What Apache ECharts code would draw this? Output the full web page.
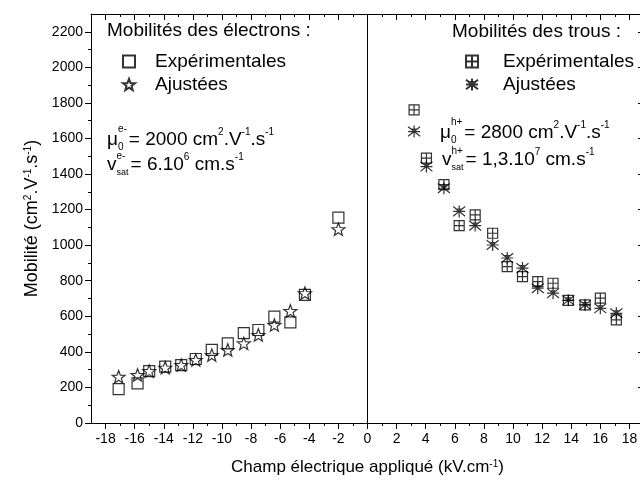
<!DOCTYPE html>
<html><head><meta charset="utf-8">
<script src="https://cdn.jsdelivr.net/npm/echarts@6/dist/echarts.min.js"></script>
<style>html,body{margin:0;padding:0;background:#fff}#c{width:640px;height:490px}</style>
</head><body><div id="c"></div>
<script>
// ---------- data ----------
const xTicks = [-18,-16,-14,-12,-10,-8,-6,-4,-2,0,2,4,6,8,10,12,14,16,18];
const xMinorTicks = [-17,-15,-13,-11,-9,-7,-5,-3,-1,1,3,5,7,9,11,13,15,17];
const yTicks = [0,200,400,600,800,1000,1200,1400,1600,1800,2000,2200];
const yMinorTicks = [100,300,500,700,900,1100,1300,1500,1700,1900,2100];

const eField = [-17.1,-15.8,-15.0,-13.9,-12.8,-11.8,-10.7,-9.6,-8.5,-7.5,-6.4,-5.3,-4.3,-2.0];
const eExp   = [191,223,292,317,326,360,411,448,505,523,598,566,720,1155];
const eFit   = [260,270,292,311,326,354,382,411,448,495,551,630,730,1090];

const hField = [3.2,4.05,5.25,6.3,7.4,8.6,9.6,10.65,11.7,12.75,13.8,14.95,16.0,17.1];
const hExp   = [1761,1489,1340,1110,1170,1067,879,823,795,786,690,664,702,580];
const hFit   = [1639,1442,1320,1190,1110,1001,928,871,758,730,690,664,645,617];

const names = {eExp:'Expérimentales (e-)', eFit:'Ajustées (e-)', hExp:'Expérimentales (h+)', hFit:'Ajustées (h+)'};
const labelText = {'Expérimentales (e-)':'Expérimentales','Ajustées (e-)':'Ajustées','Expérimentales (h+)':'Expérimentales','Ajustées (h+)':'Ajustées'};

// ---------- symbols ----------
function starPath(){
  const p=[];
  for(let i=0;i<10;i++){const r=i%2?0.42:1;const a=-Math.PI/2+i*Math.PI/5;p.push([(r*Math.cos(a)).toFixed(3),(r*Math.sin(a)).toFixed(3)]);}
  return 'path://M'+p.map(q=>q[0]+','+q[1]).join('L')+'Z';
}
const SYM_SQ = 'rect';
const SYM_STAR = starPath();
const SYM_GRID = 'path://M0,0L10,0L10,10L0,10Z M5,0L5,10 M0,5L10,5';
const SYM_AST = 'path://M0,1L10,9 M10,1L0,9 M0,5L10,5 M5,0L5,10 M3,3L7,3';

const FONT = '"Liberation Sans", Arial, sans-serif';
const BLACK = '#000';

// ---------- text helper ----------
const mctx = document.createElement('canvas').getContext('2d');
function tw(t, fs){ mctx.font = fs+'px "Liberation Sans"'; return mctx.measureText(t).width; }
function seq(x, y, parts){
  const els=[]; let cx=x;
  parts.forEach(p=>{
    const items = p.stack ? p.stack : [p];
    let w=0;
    items.forEach(it=>{
      els.push({type:'text', x:cx, y:y+(it.dy||0), z:10, style:{text:it.t, fontSize:it.fs, fontFamily:FONT, fill:BLACK, align:'left', verticalAlign:'middle'}});
      w=Math.max(w,tw(it.t,it.fs));
    });
    cx+=w+(p.gap||0);
  });
  return els;
}
const F=19, S=10;
let graphics = [];
graphics.push({type:'text', x:107, y:31, style:{text:'Mobilités des électrons :', fontSize:F, fontFamily:FONT, fill:BLACK, verticalAlign:'middle'}});
graphics.push({type:'text', x:452, y:32, style:{text:'Mobilités des trous :', fontSize:F, fontFamily:FONT, fill:BLACK, verticalAlign:'middle'}});
graphics = graphics.concat(seq(107,140,[
  {t:'μ',fs:F,gap:0},{stack:[{t:'e-',fs:S,dy:-11},{t:'0',fs:S,dy:7}],gap:2},
  {t:'= 2000 cm',fs:F},{t:'2',fs:S,dy:-8},{t:'.V',fs:F},{t:'-1',fs:S,dy:-8},{t:'.s',fs:F},{t:'-1',fs:S,dy:-8}]));
graphics = graphics.concat(seq(107,165,[
  {t:'v',fs:F,gap:0},{stack:[{t:'e-',fs:S,dy:-9},{t:'sat',fs:S-1,dy:8}],gap:2},
  {t:'= 6.10',fs:F},{t:'6',fs:S,dy:-8},{t:' cm.s',fs:F},{t:'-1',fs:S,dy:-8}]));
graphics = graphics.concat(seq(440,133,[
  {t:'μ',fs:F,gap:0},{stack:[{t:'h+',fs:S,dy:-11},{t:'0',fs:S,dy:7}],gap:2},
  {t:'= 2800 cm',fs:F},{t:'2',fs:S,dy:-8},{t:'.V',fs:F},{t:'-1',fs:S,dy:-8},{t:'.s',fs:F},{t:'-1',fs:S,dy:-8}]));
graphics = graphics.concat(seq(442,160,[
  {t:'v',fs:F,gap:0},{stack:[{t:'h+',fs:S,dy:-9},{t:'sat',fs:S-1,dy:8}],gap:2},
  {t:'= 1,3.10',fs:F},{t:'7',fs:S,dy:-8},{t:' cm.s',fs:F},{t:'-1',fs:S,dy:-8}]));

// ---------- axes ----------
const XMIN=-19, XMAX=19, YMIN=0, YMAX=2300;
function xAx(pos, vals, len, inside, main){
  return {type:'value', min:XMIN, max:XMAX, position:pos,
    axisLine:{show:!!main, onZero:false, lineStyle:{color:BLACK,width:1}},
    axisTick:{show:true, inside:inside, length:len, customValues:vals, lineStyle:{color:BLACK,width:1}},
    axisLabel:{show:false}, splitLine:{show:false}};
}
function yAx(pos, vals, len, inside, main){
  return {type:'value', min:YMIN, max:YMAX, position:pos,
    axisLine:{show:!!main, onZero:false, lineStyle:{color:BLACK,width:1}},
    axisTick:{show:true, inside:inside, length:len, customValues:vals, lineStyle:{color:BLACK,width:1}},
    axisLabel:{show:false}, splitLine:{show:false}};
}
const xMain = xAx('bottom', xTicks, 6, false, true);
xMain.axisLabel = {show:true, customValues:xTicks, color:BLACK, fontSize:14, fontFamily:FONT, margin:9, formatter:v=>String(v)};
xMain.name = 'Champ électrique appliqué (kV.cm{sup|-1})';
xMain.nameLocation = 'middle';
xMain.nameGap = 36;
xMain.nameTextStyle = {color:BLACK, fontSize:17, fontFamily:FONT, rich:{sup:{fontSize:10, fontFamily:FONT, color:BLACK, verticalAlign:'top', lineHeight:10}}};

const yMain = yAx('left', yTicks, 6, false, true);
yMain.axisLabel = {show:true, customValues:yTicks, color:BLACK, fontSize:14, fontFamily:FONT, margin:8, formatter:v=>String(v)};
yMain.name = 'Mobilité (cm{sup|2}.V{sup|-1}.s{sup|-1})';
yMain.nameLocation = 'middle';
yMain.nameGap = 50;
yMain.nameTextStyle = {color:BLACK, fontSize:18, fontFamily:FONT, rich:{sup:{fontSize:10, fontFamily:FONT, color:BLACK, verticalAlign:'top', lineHeight:10}}};

const xAxes = [xMain, xAx('bottom', xMinorTicks, 3, false, false), xAx('top', xTicks, 6, true, true), xAx('top', xMinorTicks, 3, true, false)];
const yAxes = [yMain, yAx('left', yMinorTicks, 3, false, false), yAx('right', yTicks, 6, true, true), yAx('right', yMinorTicks, 3, true, false)];

function sc(name, xs, ys, sym, size, z){
  return {type:'scatter', name:name, xAxisIndex:0, yAxisIndex:0, data:xs.map((x,i)=>[x,ys[i]]),
    symbol:sym, symbolSize:size, symbolKeepAspect:true, z:z,
    itemStyle:{color:'rgba(0,0,0,0)', borderColor:BLACK, borderWidth:1.2},
    emphasis:{disabled:true}};
}
const sE = sc(names.eExp, eField, eExp, SYM_SQ, 11, 3);
sE.markLine = {silent:true, symbol:'none', label:{show:false}, lineStyle:{color:BLACK, width:1, type:'solid'}, data:[{xAxis:0}]};
const series = [sE, sc(names.eFit, eField, eFit, SYM_STAR, 13, 4), sc(names.hExp, hField, hExp, SYM_GRID, 10, 3), sc(names.hFit, hField, hFit, SYM_AST, 12, 4)];

function lg(left, top, data, pad){
  return {left:left, top:top, orient:'vertical', data:data, itemWidth:12, itemHeight:12, itemGap:4, selectedMode:false,
    formatter:n=>labelText[n], textStyle:{fontSize:F, fontFamily:FONT, color:BLACK, padding:[0,0,0,pad]}};
}

const chart = echarts.init(document.getElementById('c'), null, {renderer:'canvas'});
chart.setOption({
  animation:false,
  backgroundColor:'#fff',
  grid:{left:91, top:14, width:553, height:409, containLabel:false, outerBoundsMode:'none'},
  xAxis:xAxes, yAxis:yAxes, series:series,
  legend:[lg(117,47,[names.eExp,names.eFit],15), lg(460,47,[names.hExp,names.hFit],20)],
  graphic:graphics
});
</script></body></html>
